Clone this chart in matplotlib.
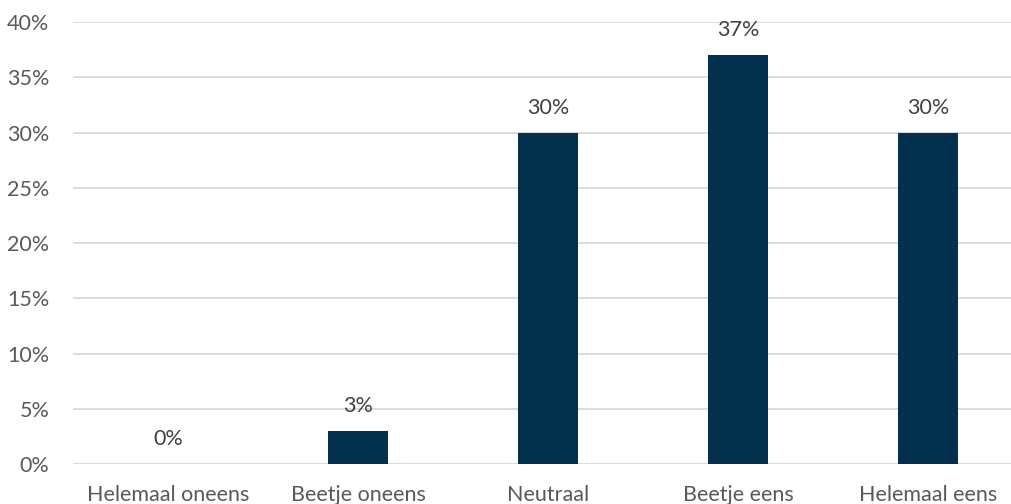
import numpy as np
import matplotlib.pyplot as plt

# Antwoordcategorieen en percentages
categorieen = ['Helemaal oneens', 'Beetje oneens', 'Neutraal', 'Beetje eens', 'Helemaal eens']
percentages = [0, 3, 30, 37, 30]
yticks = [0, 5, 10, 15, 20, 25, 30, 35, 40]

plt.rcParams['font.family'] = ['Lato', 'DejaVu Sans']

fig = plt.figure(figsize=(10.11, 5.04), dpi=100)
# plotgebied loopt rechts iets buiten de figuur
ax = fig.add_axes([73/1011, 40/504, 950/1011, 442/504])

x = np.arange(len(categorieen))
ax.bar(x, percentages, width=0.316, color='#02304d', zorder=3)

for xi, p in zip(x, percentages):
    ax.annotate(f'{p}%', (xi, p), xytext=(0, 18), textcoords='offset points',
                ha='center', va='center', fontsize=15.5, color='#404040')

ax.set_xlim(-0.5, len(categorieen) - 0.5)
ax.set_ylim(0, 40)
ax.set_yticks(yticks)
ax.set_yticklabels([f'{t}%' for t in yticks])
ax.set_xticks(x)
ax.set_xticklabels(categorieen)
ax.yaxis.grid(True, color='#d9d9d9', linewidth=1.3, zorder=0)
ax.tick_params(axis='both', length=0, labelsize=15.5, labelcolor='#595959')
ax.tick_params(axis='y', pad=17)
ax.tick_params(axis='x', pad=15)
for s in ax.spines.values():
    s.set_visible(False)

fig.savefig('out.png', dpi=100)
